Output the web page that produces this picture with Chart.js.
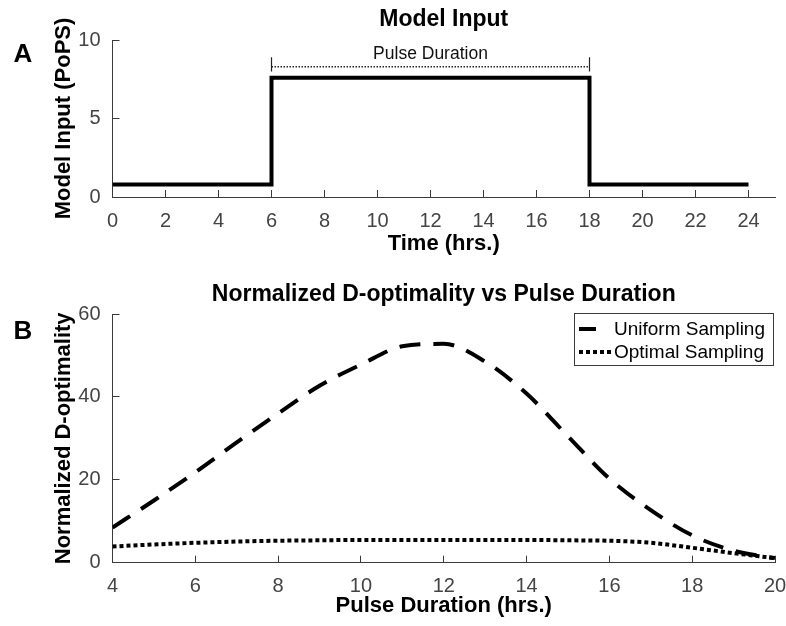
<!DOCTYPE html>
<html>
<head>
<meta charset="utf-8">
<script src="https://cdn.jsdelivr.net/npm/chart.js@4.4.1/dist/chart.umd.min.js"></script>
<style>
  html, body { margin: 0; padding: 0; background: #fff; }
  #wrap { position: relative; width: 786px; height: 626px; }
  .panel { position: absolute; left: 0; width: 786px; }
  #panelA { top: 0; height: 262px; }
  #panelB { top: 262px; height: 364px; }
</style>
</head>
<body>
<div id="wrap">
  <div class="panel" id="panelA"><canvas id="inputChart" width="786" height="262"></canvas></div>
  <div class="panel" id="panelB"><canvas id="doptChart" width="786" height="364"></canvas></div>
</div>
<script>
// panel A: light input pulse
const inputTimes = [0, 6, 18, 24];
const inputLevels = [0.8, 7.6, 0.8, 0.8];
const pulseBounds = [6, 18];
const bracketLevel = 8.3;
const bracketCap = [8.0, 8.9];
const bracketLabelLevel = 9.1;
const timeTicks = [0, 2, 4, 6, 8, 10, 12, 14, 16, 18, 20, 22, 24];
const inputTicks = [0, 5, 10];

// panel B: D-optimality against pulse length
const pulseDurations = [4, 5, 6, 7, 8, 9, 10, 11, 12, 13, 14, 15, 16, 17, 18, 19, 20];
const uniformSampling = [8.5, 15, 21.8, 29, 36, 42.7, 47.8, 52.2, 52.8, 48.5, 40.8, 30.5, 20.3, 12.7, 6.6, 2.9, 1.1];
const optimalSampling = [3.9, 4.4, 4.8, 5.1, 5.3, 5.4, 5.5, 5.5, 5.5, 5.5, 5.5, 5.4, 5.3, 4.8, 3.6, 2.3, 1.1];
const durationTicks = [4, 6, 8, 10, 12, 14, 16, 18, 20];
const doptTicks = [0, 20, 40, 60];

const FONT = "'Liberation Sans', Arial, Helvetica, sans-serif";
const AXIS = '#3a3a3a';
const TICK_TEXT = '#444';
Chart.defaults.font.family = FONT;
Chart.defaults.color = '#000';

const toPoints = (xs, ys) => xs.map((x, i) => ({ x: x, y: ys[i] }));

function xAxis(min, max, ticks, label, height, titlePad) {
  return {
    type: 'linear', min: min, max: max,
    afterFit: s => { s.height = height; s.paddingLeft = 0; s.paddingRight = 0; },
    afterBuildTicks: s => { s.ticks = ticks.map(v => ({ value: v })); },
    border: { display: true, color: AXIS, width: 1 },
    grid: { drawOnChartArea: false, drawTicks: true, tickLength: -7, color: AXIS },
    ticks: { padding: 19, color: TICK_TEXT, font: { size: 20 }, maxRotation: 0, autoSkip: false },
    title: { display: true, text: label, color: '#000', font: { size: 22, weight: 'bold' }, padding: { top: 0, bottom: titlePad } }
  };
}

function yAxis(min, max, ticks, label) {
  return {
    type: 'linear', min: min, max: max,
    afterFit: s => { s.width = 112.5; s.paddingTop = 0; s.paddingBottom = 0; },
    afterBuildTicks: s => { s.ticks = ticks.map(v => ({ value: v })); },
    border: { display: true, color: AXIS, width: 1 },
    grid: { drawOnChartArea: false, drawTicks: true, tickLength: -7, color: AXIS },
    ticks: { padding: 19, color: TICK_TEXT, font: { size: 20 } },
    title: { display: true, text: label, color: '#000', font: { size: 22, weight: 'bold' }, padding: { top: 51, bottom: 0 } }
  };
}

// big bold panel letter in the top-left corner
function panelLetter(letter, y) {
  return {
    id: 'panelLetter' + letter,
    afterDraw(chart) {
      const ctx = chart.ctx;
      ctx.save();
      ctx.font = 'bold 26px ' + FONT;
      ctx.fillStyle = '#000';
      ctx.textAlign = 'center';
      ctx.textBaseline = 'middle';
      ctx.fillText(letter, 23, y);
      ctx.restore();
    }
  };
}

const pulseLabel = {
  id: 'pulseLabel',
  afterDatasetsDraw(chart) {
    const ctx = chart.ctx;
    const xs = chart.scales.x, ys = chart.scales.y;
    ctx.save();
    ctx.font = '17.5px ' + FONT;
    ctx.fillStyle = '#111';
    ctx.textAlign = 'center';
    ctx.textBaseline = 'middle';
    ctx.fillText('Pulse Duration', xs.getPixelForValue((pulseBounds[0] + pulseBounds[1]) / 2), ys.getPixelForValue(bracketLabelLevel));
    ctx.restore();
  }
};

// boxed legend tucked in the upper right of the plot
const boxLegend = {
  id: 'boxLegend',
  afterDraw(chart, args, opts) {
    const ctx = chart.ctx, a = chart.chartArea;
    const w = 199, h = 52;
    const x0 = a.right - w - 2, y0 = a.top - 1;
    ctx.save();
    ctx.fillStyle = '#fff';
    ctx.fillRect(x0, y0, w, h);
    ctx.strokeStyle = AXIS;
    ctx.lineWidth = 1;
    ctx.strokeRect(x0 + 0.5, y0 + 0.5, w, h);
    ctx.font = '19px ' + FONT;
    ctx.textBaseline = 'middle';
    ctx.textAlign = 'left';
    chart.data.datasets.forEach((ds, i) => {
      const y = y0 + 16 + i * 23;
      ctx.strokeStyle = ds.borderColor;
      ctx.lineWidth = ds.borderWidth;
      ctx.setLineDash(ds.borderDash || []);
      ctx.beginPath();
      ctx.moveTo(x0 + 5, y);
      ctx.lineTo(x0 + 5 + opts.sampleLength[i], y);
      ctx.stroke();
      ctx.setLineDash([]);
      ctx.fillStyle = '#000';
      ctx.fillText(ds.label, x0 + 40, y + 1);
    });
    ctx.restore();
  }
};

new Chart(document.getElementById('inputChart'), {
  type: 'line',
  data: {
    datasets: [
      {
        label: 'Model Input',
        data: toPoints(inputTimes, inputLevels),
        stepped: 'before',
        borderColor: '#000', borderWidth: 4, borderJoinStyle: 'miter',
        pointRadius: 0, fill: false
      },
      {
        label: 'bracket',
        data: toPoints(pulseBounds, [bracketLevel, bracketLevel]),
        borderColor: '#222', borderWidth: 1.5, borderDash: [1.5, 1.5],
        pointRadius: 0, fill: false
      },
      {
        label: 'bracket start',
        data: toPoints([pulseBounds[0], pulseBounds[0]], bracketCap),
        borderColor: '#222', borderWidth: 1.2, pointRadius: 0, fill: false
      },
      {
        label: 'bracket end',
        data: toPoints([pulseBounds[1], pulseBounds[1]], bracketCap),
        borderColor: '#222', borderWidth: 1.2, pointRadius: 0, fill: false
      }
    ]
  },
  options: {
    responsive: false,
    animation: false,
    layout: { padding: { left: 0, right: 11, top: 0, bottom: 0 } },
    plugins: {
      legend: { display: false },
      tooltip: { enabled: false },
      title: {
        display: true, text: 'Model Input', fullSize: false, color: '#000',
        font: { size: 23, weight: 'bold' }, padding: { top: 6.2, bottom: 6.2 }
      }
    },
    scales: {
      x: xAxis(0, 25, timeTicks, 'Time (hrs.)', 65, 4.8),
      y: yAxis(0, 10, inputTicks, 'Model Input (PoPS)')
    }
  },
  plugins: [pulseLabel, panelLetter('A', 55)]
});

new Chart(document.getElementById('doptChart'), {
  type: 'line',
  data: {
    datasets: [
      {
        label: 'Uniform Sampling',
        data: toPoints(pulseDurations, uniformSampling),
        borderColor: '#000', borderWidth: 4, borderDash: [21, 13], borderCapStyle: 'butt',
        cubicInterpolationMode: 'monotone', pointRadius: 0, fill: false
      },
      {
        label: 'Optimal Sampling',
        data: toPoints(pulseDurations, optimalSampling),
        borderColor: '#000', borderWidth: 4, borderDash: [4, 3], borderCapStyle: 'butt',
        cubicInterpolationMode: 'monotone', pointRadius: 0, fill: false
      }
    ]
  },
  options: {
    responsive: false,
    animation: false,
    layout: { padding: { left: 0, right: 11, top: 0, bottom: 0 } },
    plugins: {
      legend: { display: false },
      tooltip: { enabled: false },
      title: {
        display: true, text: 'Normalized D-optimality vs Pulse Duration', fullSize: false, color: '#000',
        font: { size: 23, weight: 'bold' }, padding: { top: 19.2, bottom: 5.2 }
      },
      boxLegend: { sampleLength: [17, 33] }
    },
    scales: {
      x: xAxis(4, 20, durationTicks, 'Pulse Duration (hrs.)', 63.3, 6.5),
      y: yAxis(0, 60, doptTicks, 'Normalized D-optimality')
    }
  },
  plugins: [boxLegend, panelLetter('B', 70)]
});
</script>
</body>
</html>
